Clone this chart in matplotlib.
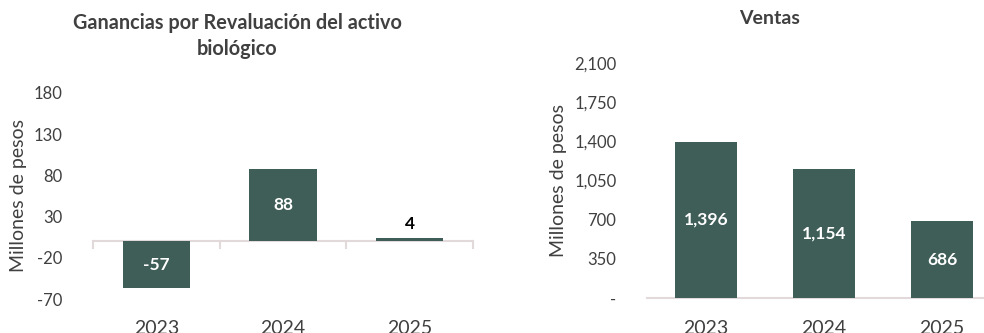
import matplotlib
matplotlib.use("Agg")
import matplotlib.pyplot as plt
from matplotlib.ticker import FuncFormatter

plt.rcParams['font.family'] = ['Lato', 'DejaVu Sans']
plt.rcParams['axes.unicode_minus'] = False

# datos (millones de pesos)
years = ['2023', '2024', '2025']
ganancias = [-57, 88, 4]
ventas = [1396, 1154, 686]

ganancias_ticks = [-70, -20, 30, 80, 130, 180]
ventas_ticks = [0, 350, 700, 1050, 1400, 1750, 2100]

bar_color = '#3F5E58'
text_color = '#404040'
axis_color = '#E2DADA'

W, H = 984, 333
fig = plt.figure(figsize=(W / 100, H / 100), dpi=100)


def px_axes(x0, x1, y0, y1):
    return fig.add_axes([x0 / W, 1 - y1 / H, (x1 - x0) / W, (y1 - y0) / H])


def style(ax):
    for s in ['top', 'right', 'left', 'bottom']:
        ax.spines[s].set_visible(False)
    ax.tick_params(axis='y', length=0, labelsize=12, labelcolor=text_color, pad=22)
    ax.tick_params(axis='x', length=0, labelsize=14, labelcolor=text_color)
    ax.set_xlim(-0.5, 2.5)


# --- Ganancias por revaluación ---
ax1 = px_axes(93, 473, 93, 299)
style(ax1)
ax1.bar(range(3), ganancias, width=0.53, color=bar_color, zorder=2)
ax1.set_ylim(-70, 180)
ax1.set_yticks(ganancias_ticks)
ax1.set_xticks([])
ax1.axhline(0, color=axis_color, lw=1.5, zorder=1)
for xt in [-0.5, 0.5, 1.5, 2.5]:
    ax1.plot([xt, xt], [0, -8.5], color=axis_color, lw=1.5, zorder=1, clip_on=False)
for i, v in enumerate(ganancias):
    if abs(v) > 20:
        ax1.text(i, v / 2, f'{v}', ha='center', va='center', color='white',
                 fontsize=12.5, fontweight='bold')
    else:
        ax1.text(i, v + 17, f'{v}', ha='center', va='center', color='black',
                 fontsize=12.5, fontweight='bold')
for i, y in enumerate(years):
    ax1.text(i, -95, y, ha='center', va='top', fontsize=14, color=text_color,
             clip_on=False)
ax1.set_ylabel('Millones de pesos', fontsize=14, color=text_color)
ax1.yaxis.set_label_coords((27 - 93) / 380, 0.5)
fig.text(237 / W, 1 - 36 / H, 'Ganancias por Revaluación del activo\nbiológico',
         ha='center', va='center', fontsize=14.3, fontweight='bold',
         color=text_color, linespacing=1.4)

# --- Ventas ---
ax2 = px_axes(647, 1001, 63, 298)
style(ax2)
ax2.bar(range(3), ventas, width=0.53, color=bar_color, zorder=2)
ax2.set_ylim(0, 2100)
ax2.set_yticks(ventas_ticks)
ax2.yaxis.set_major_formatter(FuncFormatter(lambda v, p: '-' if v == 0 else f'{v:,.0f}'))
ax2.set_xticks([])
ax2.axhline(0, color=axis_color, lw=1.5, zorder=1, clip_on=False)
for i, v in enumerate(ventas):
    ax2.text(i, v / 2, f'{v:,}', ha='center', va='center', color='white',
             fontsize=12.5, fontweight='bold')
for i, y in enumerate(years):
    ax2.text(i, -196, y, ha='center', va='top', fontsize=14, color=text_color,
             clip_on=False)
ax2.set_ylabel('Millones de pesos', fontsize=14, color=text_color)
ax2.yaxis.set_label_coords((567 - 647) / 354, 0.5)
fig.text(770 / W, 1 - 18 / H, 'Ventas', ha='center', va='center', fontsize=14,
         fontweight='bold', color=text_color)

fig.savefig('out.png', dpi=100)
